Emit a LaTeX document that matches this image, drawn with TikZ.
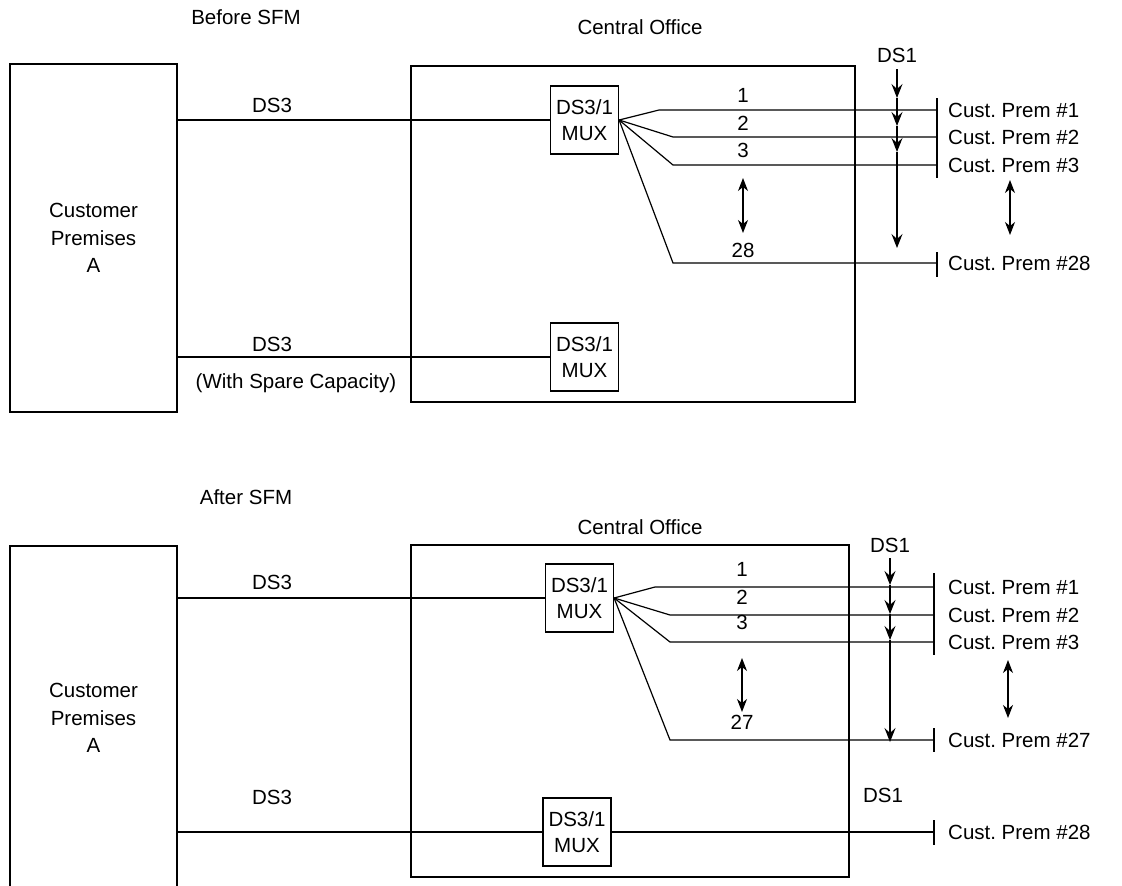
\documentclass[tikz,border=0pt]{standalone}
\usepackage{fontspec}
\setmainfont{Liberation Sans}
\usetikzlibrary{arrows.meta, calc, positioning}
\frenchspacing

\tikzset{
  box/.style={draw, line width=1.2pt, inner sep=0pt, align=center},
  mux/.style={box, minimum width=68pt, minimum height=68pt, font=\fontsize{20.5}{26}\selectfont},
  wire/.style={line width=1.2pt},
  arr/.style={line width=1.2pt, -{Stealth[length=14pt,width=11pt,inset=5pt]}},
  darr/.style={line width=1.2pt, {Stealth[length=13pt,width=10pt,inset=4pt]}-{Stealth[length=13pt,width=10pt,inset=4pt]}},
  lbl/.style={inner sep=0pt},
  prem/.style={anchor=west, inner sep=0pt},
}

\begin{document}
\begin{tikzpicture}[x=1pt, y=-1pt, font=\fontsize{20.5}{24}\selectfont]
\useasboundingbox (0,0) rectangle (1122,886);

% Before SFM
\node[lbl] (before) at (246,17) {Before SFM};
\node[box, minimum width=167pt, minimum height=348pt, font=\fontsize{20.5}{27.5}\selectfont] (custA) at (93.5,238) {Customer\\Premises\\A};
\node[box, minimum width=444pt, minimum height=336pt] (coA) at (633,234) {};
\node[lbl] (coAlbl) at (640,27) {Central Office};

% Mux and DS3 feed
\node[mux] (muxA1) at (584.5,120) {DS3/1\\MUX};
\draw[wire] (custA.east |- muxA1.west) -- (muxA1.west);
\node[lbl] (ds3A1) at (272,105) {DS3};

% DS1 channels
\foreach \n/\bx/\by/\ly in {1/659/110/95, 2/673/137/123, 3/673/165/150, 28/673/263/250} {
  \coordinate (tA\n) at (937,\by);
  \draw[wire] (muxA1.east) -- (\bx,\by) -- (tA\n);
  \node[lbl] (chA\n) at (743,\ly) {\n};
  \node[prem] (premA\n) at (948,\by) {Cust. Prem \#\n};
}
\draw[wire] (937,98) -- (937,178);
\draw[wire] (937,252) -- (937,277);
\draw[darr] (743,178) -- (743,233);
\draw[darr] (1010,180) -- (1010,235);

% DS1 arrows
\node[lbl] (ds1A) at (897,55) {DS1};
\draw[arr] (897,69) -- (897,98);
\draw[arr] (897,98) -- (897,126);
\draw[arr] (897,126) -- (897,152);
\draw[arr] (897,152) -- (897,248);

% Spare mux
\node[mux] (muxA2) at (584.5,357) {DS3/1\\MUX};
\draw[wire] (custA.east |- muxA2.west) -- (muxA2.west);
\node[lbl] (ds3A2) at (272,344) {DS3};
\node[lbl] (spare) at (296,383) {(With Spare Capacity)};

% After SFM
\node[lbl] (after) at (246,497) {After SFM};
\node[box, minimum width=167pt, minimum height=344pt, font=\fontsize{20.5}{27.5}\selectfont] (custB) at (93.5,718) {Customer\\Premises\\A};
\node[box, minimum width=438pt, minimum height=332pt] (coB) at (630,711) {};
\node[lbl] (coBlbl) at (640,527) {Central Office};

% Mux and DS3 feed
\node[mux] (muxB1) at (579.5,598) {DS3/1\\MUX};
\draw[wire] (custB.east |- muxB1.west) -- (muxB1.west);
\node[lbl] (ds3B1) at (272,582) {DS3};

% DS1 channels
\foreach \n/\bx/\by/\ly in {1/655/587/569, 2/670/615/597, 3/670/642/622, 27/670/740/722} {
  \coordinate (tB\n) at (934,\by);
  \draw[wire] (muxB1.east) -- (\bx,\by) -- (tB\n);
  \node[lbl] (chB\n) at (742,\ly) {\n};
  \node[prem] (premB\n) at (948,\by) {Cust. Prem \#\n};
}
\draw[wire] (934,573) -- (934,655);
\draw[wire] (934,728) -- (934,752);
\draw[darr] (742,658) -- (742,712);
\draw[darr] (1008,660) -- (1008,718);

% DS1 arrows
\node[lbl] (ds1B) at (890,545) {DS1};
\draw[arr] (890,558) -- (890,585);
\draw[arr] (890,585) -- (890,614);
\draw[arr] (890,614) -- (890,640);
\draw[arr] (890,640) -- (890,742);

% Second mux now carries #28
\node[mux] (muxB2) at (577,832) {DS3/1\\MUX};
\draw[wire] (custB.east |- muxB2.west) -- (muxB2.west);
\node[lbl] (ds3B2) at (272,797) {DS3};
\coordinate (tB28) at (934,832);
\draw[wire] (muxB2.east) -- (tB28);
\draw[wire] (934,820) -- (934,845);
\node[lbl] (ds1B2) at (883,795) {DS1};
\node[prem] (premB28) at (948,832) {Cust. Prem \#28};
\end{tikzpicture}
\end{document}
